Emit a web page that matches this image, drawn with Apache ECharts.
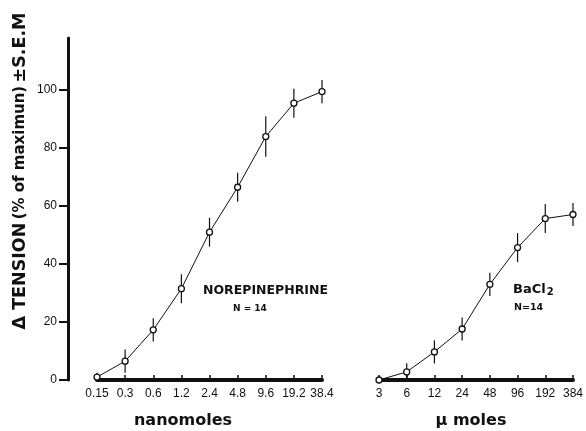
<!DOCTYPE html>
<html>
<head>
<meta charset="utf-8">
<script src="https://cdn.jsdelivr.net/npm/echarts@6/dist/echarts.min.js"></script>
<style>html,body{margin:0;padding:0;background:#fff;}#c{width:586px;height:431px;}</style>
</head>
<body>
<div id="c"></div>
<script>
// Norepinephrine (nanomoles)
const nmCategories = ['0.15','0.3','0.6','1.2','2.4','4.8','9.6','19.2','38.4'];
const nmMean = [1, 6.5, 17.3, 31.5, 51, 66.5, 84, 95.5, 99.5];
const nmSem  = [1.5, 4, 4, 5, 5, 5, 7, 5, 4];
// BaCl2 (micromoles)
const umCategories = ['3','6','12','24','48','96','192','384'];
const umMean = [0, 2.8, 9.7, 17.6, 33, 45.7, 55.7, 57.1];
const umSem  = [0.8, 3, 4, 4, 4, 5, 5, 4];
// Y axis ticks
const yTicks = [0, 20, 40, 60, 80, 100];
const yMax = 118;

const ink = '#111';
const errData = (m, s) => m.map((v, i) => [i, v - s[i], v + s[i]]);

function renderErr(params, api) {
  const x = api.value(0);
  const p1 = api.coord([x, api.value(1)]);
  const p2 = api.coord([x, api.value(2)]);
  return {
    type: 'line',
    shape: {x1: p1[0], y1: p1[1], x2: p2[0], y2: p2[1]},
    style: {stroke: ink, lineWidth: 1.2}
  };
}

const xAxisCommon = {
  type: 'category',
  boundaryGap: false,
  axisLine: {lineStyle: {color: ink, width: 4}},
  axisTick: {inside: true, length: 5, lineStyle: {color: ink, width: 1.5}},
  axisLabel: {color: ink, fontSize: 12, fontFamily: 'Liberation Sans', margin: 8, interval: 0},
  splitLine: {show: false}
};

const chart = echarts.init(document.getElementById('c'), null, {renderer: 'canvas'});
chart.setOption({
  animation: false,
  backgroundColor: '#fff',
  grid: [
    {left: 97, width: 225, top: 38, height: 342},
    {left: 379, width: 197, top: 38, height: 342}
  ],
  xAxis: [
    Object.assign({gridIndex: 0, data: nmCategories}, xAxisCommon),
    Object.assign({gridIndex: 1, data: umCategories}, xAxisCommon)
  ],
  yAxis: [
    {
      gridIndex: 0, type: 'value', min: 0, max: yMax, offset: 29,
      axisLine: {show: true, lineStyle: {color: ink, width: 3}},
      axisTick: {show: true, length: 9, customValues: yTicks, lineStyle: {color: ink, width: 2}},
      axisLabel: {color: ink, fontSize: 12, fontFamily: 'Liberation Sans', margin: 11, customValues: yTicks},
      splitLine: {show: false}
    },
    {
      gridIndex: 1, type: 'value', min: 0, max: yMax, show: false,
      splitLine: {show: false}
    }
  ],
  series: [
    {
      type: 'custom', xAxisIndex: 0, yAxisIndex: 0, z: 1,
      renderItem: renderErr, encode: {x: 0, y: [1, 2]},
      data: errData(nmMean, nmSem)
    },
    {
      type: 'line', xAxisIndex: 0, yAxisIndex: 0, z: 3,
      data: nmMean, symbol: 'circle', symbolSize: 6,
      lineStyle: {color: ink, width: 1},
      itemStyle: {color: '#fff', borderColor: ink, borderWidth: 1.3}
    },
    {
      type: 'custom', xAxisIndex: 1, yAxisIndex: 1, z: 1,
      renderItem: renderErr, encode: {x: 0, y: [1, 2]},
      data: errData(umMean, umSem)
    },
    {
      type: 'line', xAxisIndex: 1, yAxisIndex: 1, z: 3,
      data: umMean, symbol: 'circle', symbolSize: 6,
      lineStyle: {color: ink, width: 1},
      itemStyle: {color: '#fff', borderColor: ink, borderWidth: 1.3}
    }
  ],
  graphic: [
    {
      type: 'text', x: 20, y: 171, rotation: Math.PI / 2,
      style: {
        text: '{a|Δ TENSION} {b|(% of maximun)} {a|±S.E.M}',
        align: 'center', verticalAlign: 'middle', fill: ink,
        rich: {
          a: {font: 'bold 17.5px "DejaVu Sans"', fill: ink},
          b: {font: 'bold 15px "DejaVu Sans"', fill: ink}
        }
      }
    },
    {type: 'text', x: 183, y: 421, style: {text: 'nanomoles', font: 'bold 16px "DejaVu Sans"', fill: ink, align: 'center', verticalAlign: 'middle'}},
    {type: 'text', x: 471, y: 421, style: {text: 'µ moles', font: 'bold 16px "DejaVu Sans"', fill: ink, align: 'center', verticalAlign: 'middle'}},
    {type: 'text', x: 203, y: 291, style: {text: 'NOREPINEPHRINE', font: 'bold 12.5px "DejaVu Sans"', fill: ink, align: 'left', verticalAlign: 'middle'}},
    {type: 'text', x: 233, y: 309, style: {text: 'N = 14', font: 'bold 9px "DejaVu Sans"', fill: ink, align: 'left', verticalAlign: 'middle'}},
    {type: 'text', x: 513, y: 290, style: {text: '{m|BaCl}{s|2}', fill: ink, align: 'left', verticalAlign: 'middle',
      rich: {m: {font: 'bold 13px "DejaVu Sans"', fill: ink}, s: {font: 'bold 10px "DejaVu Sans"', fill: ink, padding: [5, 0, 0, 1]}}}},
    {type: 'text', x: 514, y: 308, style: {text: 'N=14', font: 'bold 9.5px "DejaVu Sans"', fill: ink, align: 'left', verticalAlign: 'middle'}}
  ]
});
</script>
</body>
</html>
